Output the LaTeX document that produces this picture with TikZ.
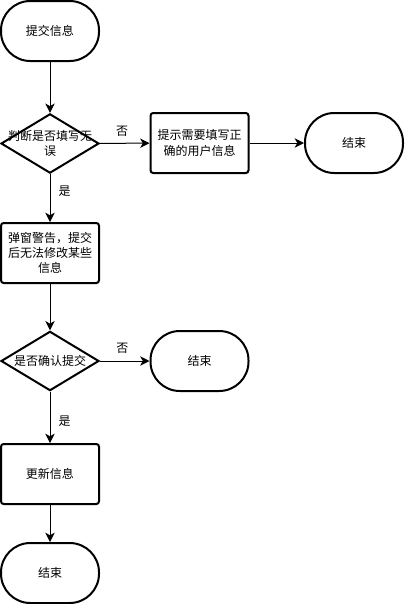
\documentclass[tikz,border=0pt]{standalone}
\usepackage{fontspec}
\setmainfont{Noto Sans CJK SC}
\usetikzlibrary{arrows.meta,shapes.geometric}
\begin{document}
\begin{tikzpicture}[x=0.75pt,y=-0.75pt,
  every node/.style={font=\fontsize{9pt}{11.5pt}\selectfont, align=center, inner sep=0pt},
  term/.style={draw, line width=1.5pt, rounded corners=22pt, minimum width=73.5pt, minimum height=45pt},
  proc/.style={draw, line width=1.5pt, rounded corners=2pt, minimum width=73.5pt, minimum height=45pt},
  dec/.style={draw, line width=1.5pt, diamond, aspect=1.65, minimum width=73.5pt, minimum height=44.5pt},
  conn/.style={line width=0.75pt, -{Stealth[length=7pt,width=7pt,inset=2pt]}},
  lbl/.style={font=\fontsize{9pt}{11pt}\selectfont}]
\useasboundingbox (0,0) rectangle (404,604);
\node[term] (t1) at (50,31) {提交信息};
\node[dec] (d1) at (50,143.5) {};
\node at (50,143.5) {判断是否填写无\\误};
\node[proc] (p1) at (199.5,143) {提示需要填写正\\确的用户信息};
\node[term] (e1) at (354,143) {结束};
\node[proc] (p2) at (50,253) {弹窗警告，提交\\后无法修改某些\\信息};
\node[dec] (d2) at (50,361) {};
\node at (50,361) {是否确认提交};
\node[term] (e2) at (199.5,361) {结束};
\node[proc] (p3) at (50,474) {更新信息};
\node[term] (e3) at (50,573) {结束};
\draw[conn] (t1) -- (d1);
\draw[conn] (d1) -- (p1) node[lbl, pos=0.45, above=5pt] {否};
\draw[conn] (p1) -- (e1);
\draw[conn] (d1) -- (p2) node[lbl, pos=0.35, right=6pt] {是};
\draw[conn] (p2) -- (d2);
\draw[conn] (d2) -- (e2) node[lbl, pos=0.45, above=5pt] {否};
\draw[conn] (d2) -- (p3) node[lbl, pos=0.58, right=6pt] {是};
\draw[conn] (p3) -- (e3);
\end{tikzpicture}
\end{document}
